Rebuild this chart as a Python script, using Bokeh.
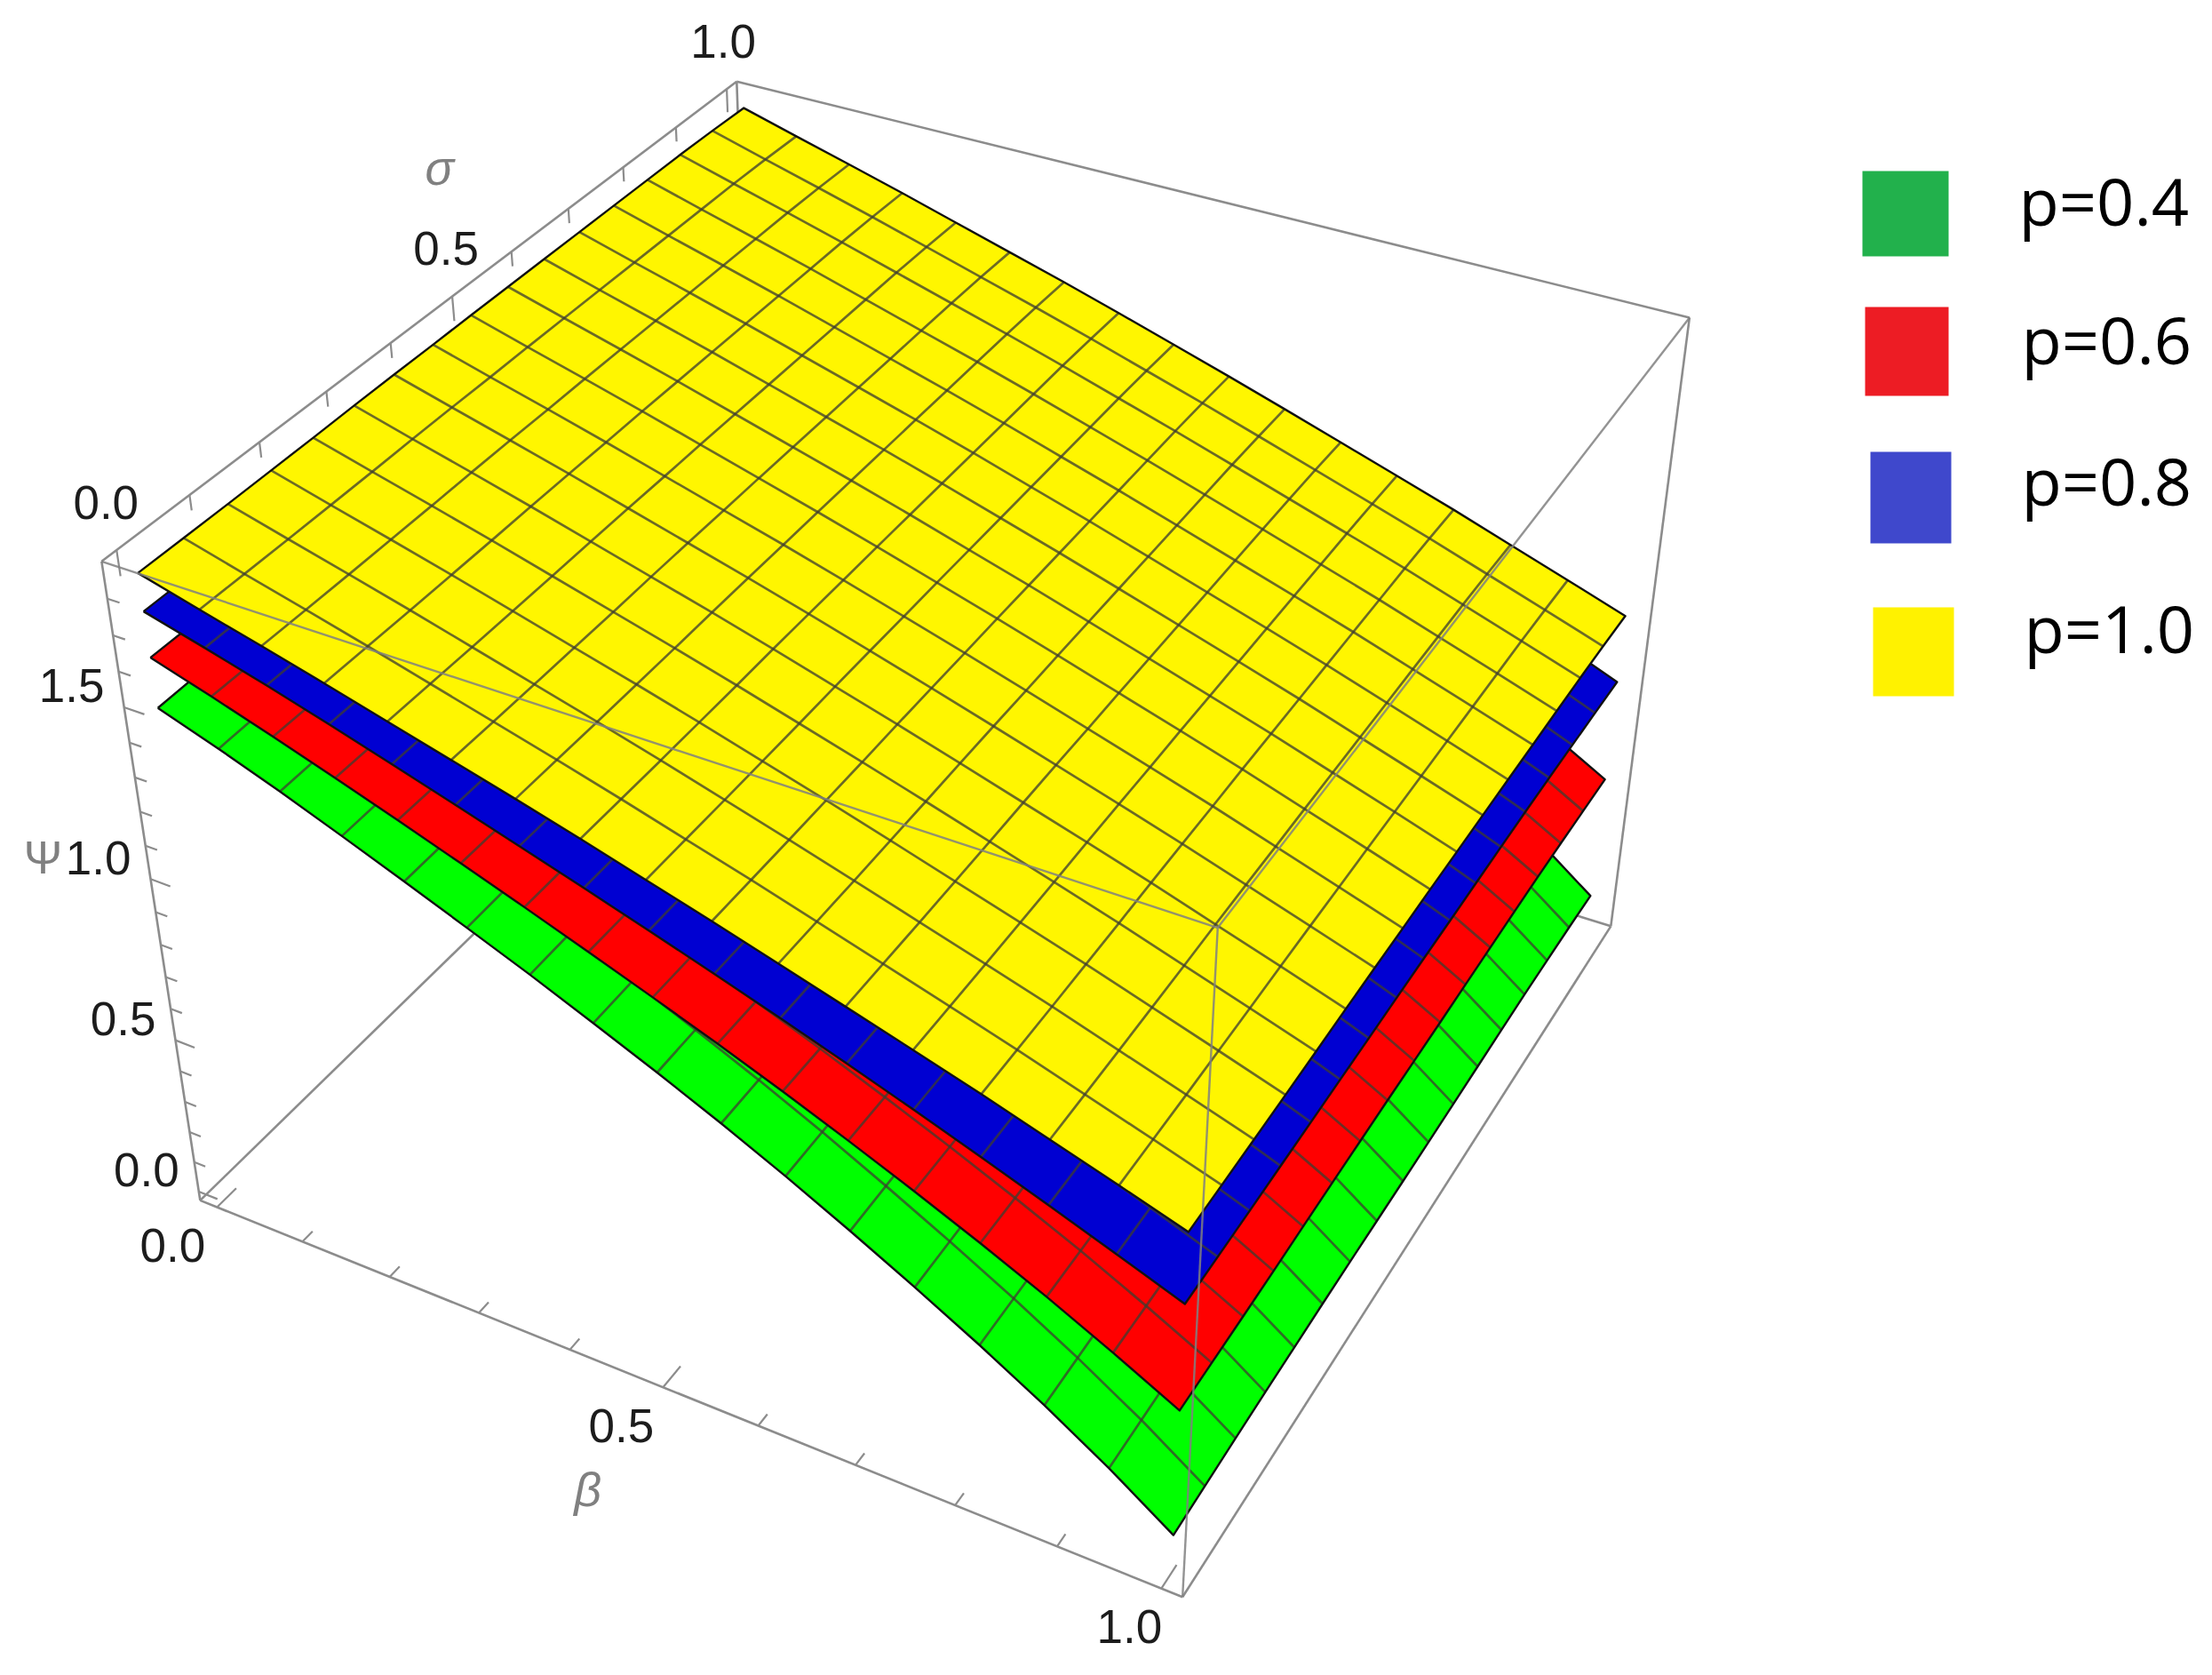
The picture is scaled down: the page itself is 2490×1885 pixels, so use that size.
from bokeh.plotting import figure
from bokeh.core.properties import value
from bokeh.embed import file_html
from bokeh.resources import INLINE

# ---- data -----------------------------------------------------------------
series_names = ["p=0.4", "p=0.6", "p=0.8", "p=1.0"]
# psi along beta = 0, 1/16, ... 1 (at sigma = 0)
psi_p04 = [1.483,1.424,1.360,1.292,1.222,1.150,1.077,1.000,0.921,0.838,0.750,0.656,0.558,0.455,0.345,0.226,0.094]
psi_p06 = [1.624,1.571,1.515,1.457,1.397,1.335,1.272,1.207,1.141,1.073,1.002,0.927,0.849,0.767,0.681,0.588,0.490]
psi_p08 = [1.751,1.705,1.657,1.606,1.553,1.499,1.444,1.388,1.331,1.273,1.213,1.151,1.087,1.021,0.953,0.883,0.812]
psi_p10 = [1.855,1.809,1.764,1.718,1.670,1.622,1.574,1.524,1.472,1.420,1.366,1.311,1.256,1.200,1.141,1.082,1.022]
# small change of psi along sigma = 0, 1/16, ... 1
dsig_p04 = [0,.003,.006,.008,.009,.010,.010,.009,.008,.008,.008,.009,.010,.010,.008,.005,0]
dsig_p06 = [0,0,0,.001,.003,.005,.006,.007,.007,.007,.008,.009,.010,.010,.008,.005,.002]
dsig_p08 = [0,0,0,.001,.002,.003,.004,.005,.006,.006,.007,.008,.008,.007,.005,.003,0]
dsig_p10 = [0,0,0,.001,.002,.004,.005,.005,.006,.006,.006,.006,.006,.006,.006,.004,0]
mesh_nodes = [i / 16 for i in range(17)]

tick_values = [i / 10 for i in range(11)]
psi_tick_values = [i / 10 for i in range(19)]
major_ticks = [0.0, 0.5, 1.0, 1.5]

# ---- styles ---------------------------------------------------------------
surface_colors = ["#00FF00", "#FF0000", "#0000D2", "#FFF600"]
legend_colors = ["#22B14C", "#ED1C24", "#3F48CC", "#FFF200"]
BOX = "#8c8c8c"
MESH = "#3c3c30"
EDGE = "#111111"

# ---- camera: a 3x4 projection fitted to the box drawn in the picture --------
CAM = [[923.661939, 771.099726, -64.358824, 256.792228],
       [240.766209, -440.844636, -410.606923, 1333.970847],
       [-0.104893, 0.197544, -0.060309, 1.0]]
B0, B1 = -0.02, 1.02
S0, S1 = -0.02, 1.02
P0, P1 = -0.03, 1.90


def proj(b, s, z):
    q = [r[0] * b + r[1] * s + r[2] * z + r[3] for r in CAM]
    return q[0] / q[2], q[1] / q[2]


p = figure(width=2474, height=1869, x_range=(0, 2474), y_range=(1869, 0),
           output_backend="svg", toolbar_location=None, min_border=0,
           x_axis_type=None, y_axis_type=None, outline_line_color=None)
p.grid.visible = False


def segs(pairs, color=BOX, width=2.6, alpha=1.0):
    xs, ys = [], []
    for a, b in pairs:
        ax, ay = proj(*a)
        bx, by = proj(*b)
        xs.append([ax, bx])
        ys.append([ay, by])
    p.multi_line(xs, ys, line_color=color, line_width=width, line_alpha=alpha)


# back edges of the box, under the surfaces
segs([((B0, S0, P0), (B0, S1, P0)), ((B0, S1, P0), (B1, S1, P0)), ((B0, S1, P0), (B0, S1, P1)),
      ((B0, S0, P1), (B0, S0, P0)), ((B0, S0, P1), (B0, S1, P1)), ((B0, S1, P1), (B1, S1, P1)),
      ((B1, S1, P1), (B1, S1, P0)), ((B1, S1, P0), (B1, S0, P0)), ((B1, S0, P0), (B0, S0, P0))])

# ticks
tb, ts, tz = [], [], []
for v in tick_values:
    major = v in major_ticks
    tb.append(((v, S0, P0), (v, S0 + (0.030 if major else 0.016), P0)))
    ts.append(((B0, v, P1), (B0, v, P1 - (0.070 if major else 0.042))))
for v in psi_tick_values:
    major = v in major_ticks
    tz.append(((B0, S0, v), (B0 + (0.022 if major else 0.013), S0, v)))
segs(tb, width=2.2)
segs(ts, width=2.2)
segs(tz, width=2.2)

# surfaces, lowest first
for psi, dsig, color in zip([psi_p04, psi_p06, psi_p08, psi_p10],
                            [dsig_p04, dsig_p06, dsig_p08, dsig_p10], surface_colors):
    n = len(mesh_nodes)
    pts = [[proj(mesh_nodes[i], mesh_nodes[j], psi[i] + dsig[j]) for j in range(n)] for i in range(n)]
    cx, cy = [], []
    for i in range(n - 1):
        for j in range(n - 1):
            c = [pts[i][j], pts[i + 1][j], pts[i + 1][j + 1], pts[i][j + 1]]
            cx.append([q[0] for q in c])
            cy.append([q[1] for q in c])
    p.patches(cx, cy, fill_color=color, line_color=color, line_width=0.6)
    mx, my = [], []
    for i in range(1, n - 1):
        mx.append([pts[i][j][0] for j in range(n)])
        my.append([pts[i][j][1] for j in range(n)])
        mx.append([pts[j][i][0] for j in range(n)])
        my.append([pts[j][i][1] for j in range(n)])
    p.multi_line(mx, my, line_color=MESH, line_width=2.7, line_alpha=0.75)
    ring = ([pts[i][0] for i in range(n)] + [pts[n - 1][j] for j in range(n)]
            + [pts[i][n - 1] for i in range(n - 1, -1, -1)] + [pts[0][j] for j in range(n - 1, -1, -1)])
    p.line([q[0] for q in ring], [q[1] for q in ring], line_color=EDGE, line_width=2.4, line_join="round")

# front edges of the box, over the surfaces
segs([((B0, S0, P1), (B1, S0, P1)), ((B1, S0, P1), (B1, S0, P0)), ((B1, S0, P1), (B1, S1, P1))],
     color="#808080", width=2.4, alpha=0.85)


def put(txts, pos, size, color="#1c1c1c", font="Liberation Sans", style="normal", align="center", base="middle"):
    p.text([q[0] for q in pos], [q[1] for q in pos], text=txts, text_color=color,
           text_font=value(font), text_font_size=value(size), text_font_style=style,
           text_align=align, text_baseline=base)


# tick labels, placed off the projected tick positions
def off(b, s, z, dx, dy):
    x, y = proj(b, s, z)
    return (x + dx, y + dy)


put(["0.0", "0.5", "1.0"], [off(v, S0, P0, dx, 43) for v, dx in ((0.0, -50), (0.5, -47), (1.0, -36))], "53px")
put(["0.0", "0.5", "1.0"], [off(B0, v, P1, dx, -54) for v, dx in ((0.0, -12), (0.5, -7), (1.0, -4))], "53px")
put(["0.0", "0.5", "1.0", "1.5"], [off(B0, S0, v, -59, -24) for v in (0.0, 0.5, 1.0, 1.5)], "53px")
put(["\u03c3"], [off(B0, 0.62, P1, -94, -84)], "54px", color="#808080", style="italic")
put(["\u03b2"], [off(0.55, S0, P0, -138, 93)], "54px", color="#808080", style="italic")
put(["\u03a8"], [off(B0, S0, 1.0, -121, -24)], "52px", color="#808080")

# legend
swatch_left = [2096, 2099, 2105, 2108]
swatch_right = [2193, 2193, 2196, 2199]
swatch_top = [192, 345, 508, 683]
swatch_bottom = [288, 445, 611, 783]
label_x = [2272, 2275, 2275, 2278]
label_y = [225, 381, 540, 706]
p.quad(left=swatch_left, right=swatch_right, top=swatch_top, bottom=swatch_bottom,
       fill_color=legend_colors, line_color=None)
put(series_names, list(zip(label_x, label_y)), "74px", color="#000000", font="Open Sans", align="left")

open("out.html", "w").write(file_html(p, INLINE))
